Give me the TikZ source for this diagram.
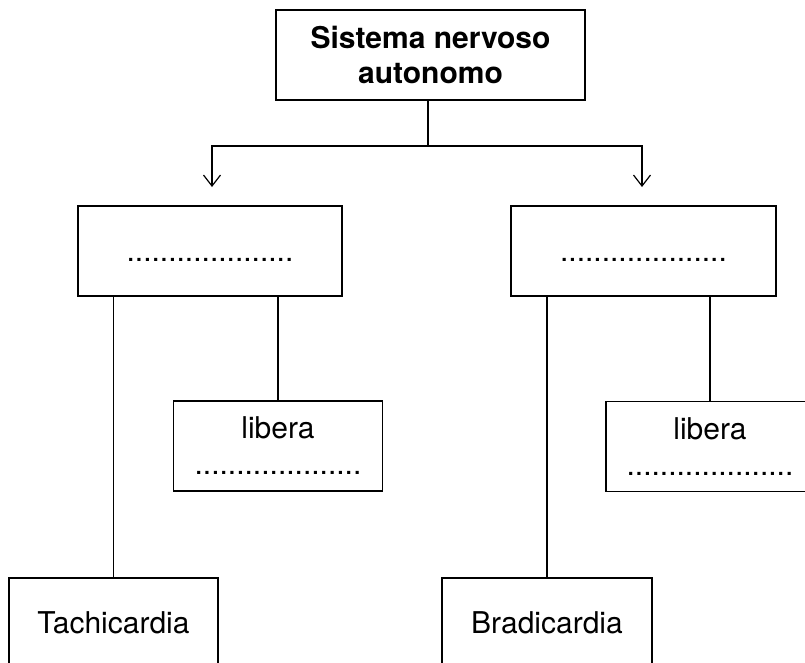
\documentclass[tikz,border=0pt]{standalone}
\usepackage{fontspec}
\setmainfont{TeX Gyre Heros}
\usetikzlibrary{arrows.meta}
\tikzset{
	cella/.style={draw,line width=1.2pt,inner sep=0pt,minimum height=90pt,align=center,font=\fontsize{30}{36}\selectfont},
	riga/.style={text height=21.5pt,text depth=0pt},
	freccia/.style={-{Straight Barb[length=11pt,width=17pt,line width=1.2pt]}}
}
\newcommand{\puntini}{....................}

\begin{document}
\begin{tikzpicture}[x=1pt,y=-1pt,line width=1.2pt]
	
	\useasboundingbox (0,0) rectangle (805,662);
	\clip (0,0) rectangle (805,662);
	
	\node[cella,minimum width=309pt,font=\fontsize{30}{35}\selectfont\bfseries] (sna) at (430.5,55) {Sistema nervoso\\autonomo};
	
	\node[cella,riga,minimum width=264pt] (ramoS) at (210,251) {\puntini};
	\node[cella,riga,minimum width=265pt] (ramoD) at (643.5,251) {\puntini};
	
	\node[cella,minimum width=209pt] (liberaS) at (278,446) {libera\\\puntini};
	\node[cella,minimum width=208pt] (liberaD) at (710,446.5) {libera\\\puntini};
	
	\node[cella,riga,minimum width=209pt] (tachi) at (113.5,623) {Tachicardia};
	\node[cella,riga,minimum width=210pt] (bradi) at (547,623) {Bradicardia};
	
	% biforcazione
	\coordinate (bivio) at (428,146);
	\coordinate (puntaS) at (212,187);
	\coordinate (puntaD) at (642,187);
	\draw (sna.south -| bivio) -- (bivio);
	\draw[freccia] (bivio) -| (puntaS);
	\draw[freccia] (bivio) -| (puntaD);
	
	\draw (ramoS.south -| tachi) -- (tachi.north);
	\draw (ramoS.south -| liberaS) -- (liberaS.north);
	\draw (ramoD.south -| bradi) -- (bradi.north);
	\draw (ramoD.south -| liberaD) -- (liberaD.north);
	
\end{tikzpicture}
\end{document}
